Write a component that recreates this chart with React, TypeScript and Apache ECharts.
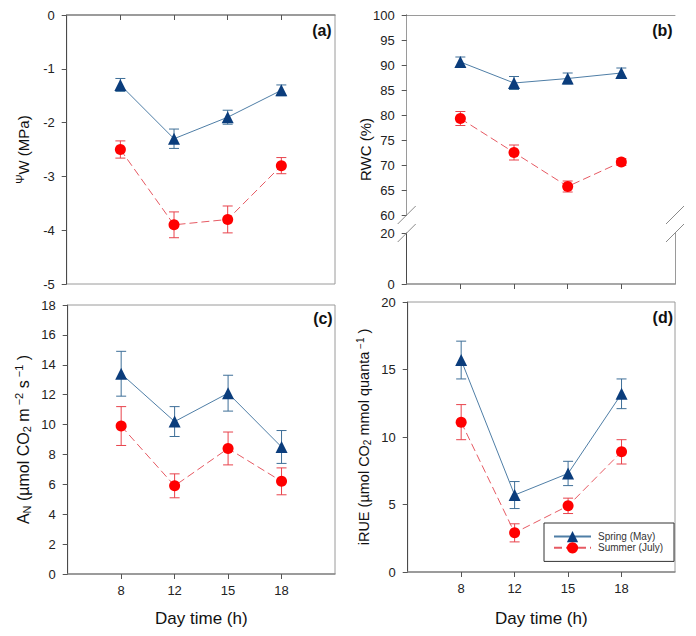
import React, { useEffect, useRef } from 'react';
import * as echarts from 'echarts';

const hours = [8, 12, 15, 18];
const legendNames = ['Spring (May)', 'Summer (July)'];

const psiSpring = [-1.3, -2.3, -1.9, -1.4];
const psiSpringErr = [0.12, 0.18, 0.13, 0.1];
const psiSummer = [-2.5, -3.9, -3.8, -2.8];
const psiSummerErr = [0.16, 0.24, 0.25, 0.15];

const rwcSpring = [90.6, 86.4, 87.3, 88.4];
const rwcSpringErr = [1.0, 1.3, 1.1, 1.0];
const rwcSummer = [79.3, 72.5, 65.7, 70.6];
const rwcSummerErr = [1.4, 1.5, 1.1, 0.7];

const anSpring = [13.4, 10.2, 12.1, 8.5];
const anSpringErr = [1.5, 1.0, 1.2, 1.1];
const anSummer = [9.9, 5.9, 8.4, 6.2];
const anSummerErr = [1.3, 0.8, 1.1, 0.9];

const rueSpring = [15.7, 5.7, 7.3, 13.2];
const rueSpringErr = [1.4, 1.0, 0.9, 1.1];
const rueSummer = [11.1, 2.9, 4.9, 8.9];
const rueSummerErr = [1.3, 0.67, 0.57, 0.9];

const FONT = "'Liberation Sans', Arial, sans-serif";
const SPRING_MARK = '#0b3d7c';
const SPRING_LINE = '#4f7ea6';
const SPRING_ERR = '#3e6f98';
const SUMMER_MARK = '#ff0000';
const SUMMER_LINE = '#e65a63';
const SUMMER_ERR = '#e8434c';
const FRAME = '#9a9a9a';
const AXIS_DARK = '#4a4a4a';

const tickPos = hours.map((_, i) => i + 1);

function pts(vals: number[]) {
  return vals.map((v, i) => [i + 1, v]);
}
function errs(vals: number[], e: number[]) {
  return vals.map((v, i) => [i + 1, v - e[i], v + e[i]]);
}

function errSeries(data: number[][], color: string, axis: number) {
  return {
    type: 'custom',
    name: 'err',
    xAxisIndex: axis,
    yAxisIndex: axis,
    z: 1,
    silent: true,
    encode: { x: 0, y: [1, 2] },
    data,
    renderItem: (params: any, api: any) => {
      const x = api.value(0);
      const top = api.coord([x, api.value(2)]);
      const bot = api.coord([x, api.value(1)]);
      const w = 5;
      const style = { stroke: color, lineWidth: 1 };
      return {
        type: 'group',
        children: [
          { type: 'line', shape: { x1: top[0], y1: top[1], x2: bot[0], y2: bot[1] }, style },
          { type: 'line', shape: { x1: top[0] - w, y1: top[1], x2: top[0] + w, y2: top[1] }, style },
          { type: 'line', shape: { x1: bot[0] - w, y1: bot[1], x2: bot[0] + w, y2: bot[1] }, style },
        ],
      };
    },
  };
}

function lineSeries(name: string, data: number[][], axis: number, spring: boolean) {
  return {
    type: 'line',
    name,
    xAxisIndex: axis,
    yAxisIndex: axis,
    z: 3,
    data,
    symbol: spring ? 'triangle' : 'circle',
    symbolSize: spring ? 12 : 11,
    itemStyle: { color: spring ? SPRING_MARK : SUMMER_MARK },
    lineStyle: spring
      ? { color: SPRING_LINE, width: 1, type: 'solid' }
      : { color: SUMMER_LINE, width: 1, type: [8, 4] },
  };
}

function panelSeries(axis: number, sp: number[], spE: number[], su: number[], suE: number[]) {
  return [
    errSeries(errs(sp, spE), SPRING_ERR, axis),
    errSeries(errs(su, suE), SUMMER_ERR, axis),
    lineSeries(legendNames[0], pts(sp), axis, true),
    lineSeries(legendNames[1], pts(su), axis, false),
  ];
}

const labelStyle = { color: '#222', fontSize: 13, fontFamily: FONT };

function xAxis(grid: number, opts: { labels: boolean; line: boolean }) {
  return {
    type: 'value',
    gridIndex: grid,
    min: 0,
    max: 5,
    interval: 1,
    splitLine: { show: false },
    axisLine: { show: opts.line, lineStyle: { color: '#8a8a8a', width: 1.5 } },
    axisTick: {
      show: opts.line,
      customValues: tickPos,
      length: 5,
      lineStyle: { color: '#555' },
    },
    axisLabel: {
      show: opts.labels,
      customValues: tickPos,
      formatter: (v: number) => String(hours[v - 1] ?? ''),
      margin: 10,
      ...labelStyle,
    },
    name: opts.labels ? 'Day time (h)' : '',
    nameLocation: 'middle',
    nameGap: 36,
    nameTextStyle: { fontSize: 17, color: '#111', fontFamily: FONT },
  };
}

function yAxis(grid: number, min: number, max: number, interval: number, extra: any = {}) {
  return {
    type: 'value',
    gridIndex: grid,
    min,
    max,
    interval,
    splitLine: { show: false },
    axisLine: { show: true, lineStyle: { color: AXIS_DARK, width: 1 } },
    axisTick: { show: true, length: 5, lineStyle: { color: '#555' } },
    axisLabel: { margin: 12, ...labelStyle },
    ...extra,
  };
}

function borderAxisY(grid: number, min: number, max: number) {
  return {
    type: 'value',
    gridIndex: grid,
    position: 'right',
    min,
    max,
    splitLine: { show: false },
    axisLine: { show: true, lineStyle: { color: FRAME, width: 1 } },
    axisTick: { show: false },
    axisLabel: { show: false },
  };
}

const yNameStyle = (main: number, small: number, extraRich: any) => ({
  fontSize: main,
  color: '#111',
  fontFamily: FONT,
  rich: {
    m: { fontSize: main, fontFamily: FONT, color: '#111', lineHeight: main + 3, verticalAlign: 'middle' },
    sub: { fontSize: small, fontFamily: FONT, color: '#111', lineHeight: small, verticalAlign: 'bottom' },
    sup: { fontSize: small, fontFamily: FONT, color: '#111', lineHeight: small, verticalAlign: 'top' },
    ...extraRich,
  },
});

function slash(cx: number, cy: number) {
  return {
    type: 'line',
    shape: { x1: cx - 9, y1: cy + 9, x2: cx + 9, y2: cy - 9 },
    style: { stroke: '#8a8a8a', lineWidth: 1 },
    z: 10,
  };
}

function panelLabel(text: string, right: number, cy: number) {
  return {
    type: 'text',
    x: right,
    y: cy,
    style: {
      text,
      fontSize: 16,
      fontWeight: 'bold',
      fontFamily: FONT,
      fill: '#111',
      align: 'right',
      verticalAlign: 'middle',
    },
    z: 10,
  };
}

export default function App() {
  const ref = useRef<HTMLDivElement>(null);

  useEffect(() => {
    if (!ref.current) return;
    const chart = echarts.init(ref.current, undefined, { renderer: 'svg' });

    const bL = 406.7;
    const bR = 675;
    const bBreakTop = 215;
    const bBreakBot = 233;

    const option: any = {
      animation: false,
      backgroundColor: '#fff',
      grid: [
        { left: 66.7, top: 15, width: 268.3, height: 269, show: true, borderColor: FRAME, borderWidth: 1 },
        { left: bL, top: 15, width: bR - bL, height: bBreakTop - 15, show: false },
        { left: bL, top: bBreakBot, width: bR - bL, height: 284 - bBreakBot, show: false },
        { left: 67.7, top: 305, width: 267.3, height: 269, show: true, borderColor: FRAME, borderWidth: 1 },
        { left: 407.7, top: 302, width: 267.3, height: 270, show: true, borderColor: FRAME, borderWidth: 1 },
      ],
      xAxis: [
        xAxis(0, { labels: false, line: true }),
        xAxis(1, { labels: false, line: false }),
        xAxis(2, { labels: false, line: true }),
        xAxis(3, { labels: true, line: true }),
        { ...xAxis(4, { labels: true, line: true }), nameGap: 38 },
        {
          type: 'value',
          gridIndex: 1,
          position: 'top',
          min: 0,
          max: 5,
          splitLine: { show: false },
          axisLine: { show: true, lineStyle: { color: FRAME, width: 1 } },
          axisTick: { show: false },
          axisLabel: { show: false },
        },
      ],
      yAxis: [
        yAxis(0, -5, 0, 1, {
          name: '{psi|Ψ}{m|W (MPa)}',
          nameLocation: 'middle',
          nameRotate: 90,
          nameGap: 34,
          nameTextStyle: yNameStyle(15, 10, {
            psi: { fontSize: 11, fontFamily: FONT, color: '#111', lineHeight: 11, verticalAlign: 'top' },
          }),
        }),
        yAxis(1, 60, 100, 5),
        yAxis(2, 0, 20, 20),
        yAxis(3, 0, 18, 2, {
          name: '{m|A}{sub|N}{m| (µmol CO}{sub|2}{m| m}{sup| −2}{m| s}{sup| −1}{m| )}',
          nameLocation: 'middle',
          nameRotate: 90,
          nameGap: 35,
          nameTextStyle: yNameStyle(16, 11, {}),
        }),
        yAxis(4, 0, 20, 5, {
          name: '{m|iRUE (µmol CO}{sub|2}{m| mmol quanta}{sup| −1}{m| )}',
          nameLocation: 'middle',
          nameRotate: 90,
          nameGap: 35,
          nameTextStyle: yNameStyle(14.5, 10, {}),
        }),
        borderAxisY(1, 60, 100),
        borderAxisY(2, 0, 20),
      ],
      legend: {
        data: legendNames,
        orient: 'vertical',
        left: 544,
        top: 523,
        padding: [8, 11, 8, 9],
        itemGap: 0,
        itemWidth: 37,
        itemHeight: 14,
        borderColor: '#333',
        borderWidth: 1,
        backgroundColor: '#fff',
        textStyle: { fontSize: 10, color: '#333', fontFamily: FONT, padding: [0, 0, 0, 2] },
      },
      series: [
        ...panelSeries(0, psiSpring, psiSpringErr, psiSummer, psiSummerErr),
        ...panelSeries(1, rwcSpring, rwcSpringErr, rwcSummer, rwcSummerErr),
        ...panelSeries(3, anSpring, anSpringErr, anSummer, anSummerErr),
        ...panelSeries(4, rueSpring, rueSpringErr, rueSummer, rueSummerErr),
      ],
      graphic: [
        slash(bL, bBreakTop),
        slash(bL, bBreakBot),
        slash(bR, bBreakTop),
        slash(bR, bBreakBot),
        {
          type: 'text',
          x: 365,
          y: 149.5,
          rotation: Math.PI / 2,
          style: {
            text: 'RWC (%)',
            fontSize: 15,
            fontFamily: FONT,
            fill: '#111',
            align: 'center',
            verticalAlign: 'middle',
          },
        },
        panelLabel('(a)', 331.7, 30),
        panelLabel('(b)', 672.7, 30),
        panelLabel('(c)', 332.7, 318),
        panelLabel('(d)', 673, 317),
      ],
    };

    chart.setOption(option);
    return () => chart.dispose();
  }, []);

  return (
    <div
      ref={ref}
      style={{ position: 'absolute', left: 0, top: 0, width: 696, height: 636, background: '#fff' }}
    />
  );
}
